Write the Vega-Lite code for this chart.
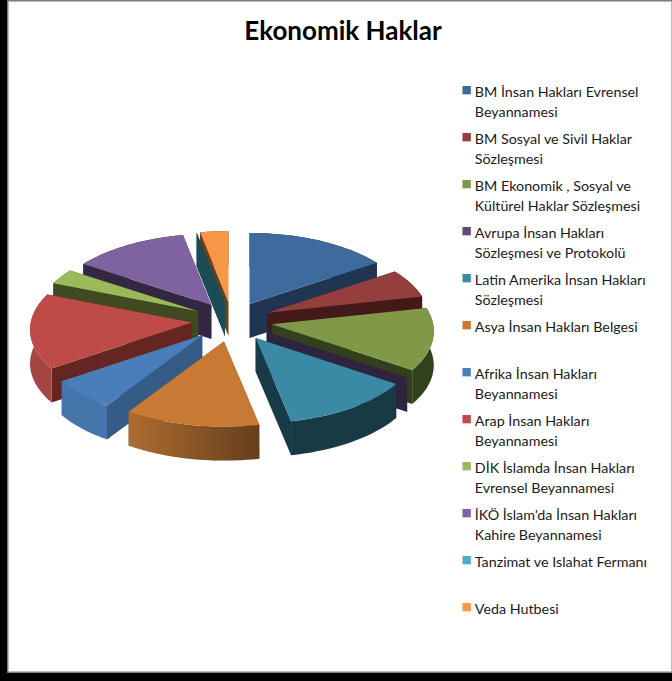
{
  "$schema": "https://vega.github.io/schema/vega-lite/v6.json",
  "autosize": {"type": "none"},
  "padding": {"left": 8, "top": 1, "right": 0, "bottom": 9},
  "background": "#000000",
  "width": 664,
  "height": 671,
  "view": {"fill": "#ffffff", "stroke": "#a6a6a6", "strokeWidth": 1.5},
  "title": {
    "text": "Ekonomik Haklar",
    "font": "Lato",
    "fontWeight": "bold",
    "fontSize": 26,
    "color": "#000000",
    "anchor": "middle",
    "baseline": "alphabetic",
    "offset": 0,
    "dx": 3,
    "dy": 65
  },
  "data": {
    "values": [
      {"sira": 12, "ad": "Veda Hutbesi", "deger": 2.8},
      {"sira": 11, "ad": "Tanzimat  ve Islahat Fermanı", "deger": 0},
      {"sira": 1, "ad": "BM İnsan Hakları Evrensel\nBeyannamesi", "deger": 14.4},
      {"sira": 10, "ad": "İKÖ İslam’da İnsan Hakları\nKahire Beyannamesi", "deger": 11.7},
      {"sira": 2, "ad": "BM Sosyal ve  Sivil Haklar\nSözleşmesi", "deger": 5.8},
      {"sira": 9, "ad": "DİK  İslamda İnsan  Hakları\nEvrensel Beyannamesi", "deger": 3.1},
      {"sira": 3, "ad": "BM Ekonomik , Sosyal ve\nKültürel Haklar Sözleşmesi", "deger": 13.1},
      {"sira": 8, "ad": "Arap İnsan  Hakları\nBeyannamesi", "deger": 15.7},
      {"sira": 4, "ad": "Avrupa İnsan  Hakları\nSözleşmesi ve Protokolü", "deger": 0},
      {"sira": 7, "ad": "Afrika İnsan Hakları\nBeyannamesi", "deger": 6.7},
      {"sira": 5, "ad": "Latin Amerika İnsan Hakları\nSözleşmesi", "deger": 13.2},
      {"sira": 6, "ad": "Asya İnsan Hakları Belgesi", "deger": 13.5}
    ]
  },
  "transform": [
    {"window": [{"op": "sum", "field": "deger", "as": "bitis"}], "sort": [{"field": "sira"}], "frame": [null, 0]},
    {"calculate": "2*PI*(datum.bitis-datum.deger)/100", "as": "a0"},
    {"calculate": "2*PI*datum.bitis/100", "as": "a1"},
    {"calculate": "(datum.a0+datum.a1)/2", "as": "orta"},
    {"calculate": "232+40*sin(datum.orta)", "as": "tepeX"},
    {"calculate": "322-20*cos(datum.orta)", "as": "tepeY"}
  ],
  "layer": [
    {
      "transform": [
        {"calculate": "['kesit1','kesit2','dis']", "as": "yuz"},
        {"flatten": ["yuz"]},
        {"calculate": "datum.yuz=='dis'?31:2", "as": "n"},
        {"calculate": "sequence(0,2*datum.n)", "as": "adim"},
        {"flatten": ["adim"]},
        {"calculate": "datum.adim<datum.n?datum.adim:2*datum.n-1-datum.adim", "as": "i"},
        {"calculate": "datum.yuz=='kesit1'?datum.a0:datum.yuz=='kesit2'?datum.a1:datum.a0+(datum.a1-datum.a0)*datum.i/30", "as": "aci"},
        {"calculate": "datum.yuz=='dis'?1:datum.i", "as": "k"},
        {"calculate": "datum.tepeX+datum.k*162*sin(datum.aci)", "as": "px"},
        {"calculate": "datum.tepeY+datum.k*(7-78*cos(datum.aci))+(datum.adim<datum.n?0:34)", "as": "py"},
        {"calculate": "datum.ad+'/'+datum.yuz", "as": "parca"},
        {"calculate": "datum.yuz=='dis'&&(datum.sira==6||datum.sira==7||datum.sira==8)?'dis'+datum.sira:'k'+datum.sira", "as": "ton"}
      ],
      "mark": {"type": "line", "interpolate": "linear", "strokeWidth": 0, "filled": true},
      "encoding": {
        "x": {"field": "px", "type": "quantitative", "axis": null, "scale": {"domain": [8, 672], "nice": false, "zero": false}},
        "y": {"field": "py", "type": "quantitative", "axis": null, "scale": {"domain": [1, 672], "reverse": true, "nice": false, "zero": false}},
        "order": {"field": "adim", "type": "quantitative"},
        "detail": {"field": "parca", "type": "nominal"},
        "fill": {
          "field": "ton",
          "type": "nominal",
          "legend": null,
          "scale": {
            "domain": ["k1", "k2", "k3", "k4", "k5", "k6", "k7", "k8", "k9", "k10", "k11", "k12", "dis6", "dis7", "dis8"],
            "range": ["#1f3552", "#431a17", "#33401c", "#2f2440", "#173a45", "#6b4018", "#345c87", "#652623", "#3f4a20", "#332744", "#1b4b55", "#6b4018", "#ad6c31", "#4675ab", "#a44543"]
          }
        }
      }
    },
    {
      "transform": [
        {"filter": "datum.sira==6"},
        {"calculate": "sequence(0,62)", "as": "adim"},
        {"flatten": ["adim"]},
        {"calculate": "datum.adim<31?datum.adim:61-datum.adim", "as": "i"},
        {"calculate": "datum.a0+(datum.a1-datum.a0)*datum.i/30", "as": "aci"},
        {"calculate": "datum.tepeX+162*sin(datum.aci)", "as": "px"},
        {"calculate": "datum.tepeY+7-78*cos(datum.aci)+(datum.adim<31?0:34)", "as": "py"}
      ],
      "mark": {
        "type": "line",
        "strokeWidth": 0,
        "filled": true,
        "fill": {
          "gradient": "linear",
          "x1": 0, "x2": 1, "y1": 0, "y2": 0,
          "stops": [
            {"offset": 0, "color": "rgba(0,0,0,0)"},
            {"offset": 1, "color": "rgba(0,0,0,0.42)"}
          ]
        }
      },
      "encoding": {
        "x": {"field": "px", "type": "quantitative", "axis": null},
        "y": {"field": "py", "type": "quantitative", "axis": null},
        "order": {"field": "adim", "type": "quantitative"}
      }
    },
    {
      "transform": [
        {"calculate": "sequence(0,33)", "as": "adim"},
        {"flatten": ["adim"]},
        {"calculate": "datum.a0+(datum.a1-datum.a0)*(datum.adim-1)/30", "as": "aci"},
        {"calculate": "datum.adim==0||datum.adim==32?0:1", "as": "k"},
        {"filter": "datum.adim<=32"},
        {"calculate": "datum.tepeX+datum.k*162*sin(datum.aci)", "as": "px"},
        {"calculate": "datum.tepeY+datum.k*(7-78*cos(datum.aci))", "as": "py"}
      ],
      "mark": {"type": "line", "interpolate": "linear", "strokeWidth": 0, "filled": true},
      "encoding": {
        "x": {"field": "px", "type": "quantitative", "axis": null},
        "y": {"field": "py", "type": "quantitative", "axis": null},
        "order": {"field": "adim", "type": "quantitative"},
        "fill": {
          "field": "ad",
          "type": "nominal",
          "scale": {
            "domain": [
              "BM İnsan Hakları Evrensel\nBeyannamesi",
              "BM Sosyal ve  Sivil Haklar\nSözleşmesi",
              "BM Ekonomik , Sosyal ve\nKültürel Haklar Sözleşmesi",
              "Avrupa İnsan  Hakları\nSözleşmesi ve Protokolü",
              "Latin Amerika İnsan Hakları\nSözleşmesi",
              "Asya İnsan Hakları Belgesi",
              "Afrika İnsan Hakları\nBeyannamesi",
              "Arap İnsan  Hakları\nBeyannamesi",
              "DİK  İslamda İnsan  Hakları\nEvrensel Beyannamesi",
              "İKÖ İslam’da İnsan Hakları\nKahire Beyannamesi",
              "Tanzimat  ve Islahat Fermanı",
              "Veda Hutbesi"
            ],
            "range": ["#3e6a9e", "#943f3d", "#7f9948", "#604a7b", "#3a8aa5", "#c87a34", "#4a7ebb", "#be4b48", "#9aba59", "#7f62a0", "#4bacc6", "#f79646"]
          },
          "legend": {
            "title": null,
            "orient": "none",
            "legendX": 451.5,
            "legendY": 82,
            "symbolType": "square",
            "symbolSize": 70,
            "symbolStrokeWidth": 0,
            "labelFont": "Lato",
            "labelFontSize": 14.3,
            "labelColor": "#1a1a1a",
            "labelBaseline": "top",
            "labelLimit": 300,
            "labelExpr": "split(datum.label,'\\n')",
            "gridAlign": "all",
            "columns": 1,
            "rowPadding": 10,
            "labelOffset": 1,
            "encode": {"labels": {"update": {"lineHeight": {"value": 19.5}, "dy": {"value": -4}}}}
          }
        }
      }
    }
  ],
  "resolve": {"scale": {"fill": "independent"}}
}
